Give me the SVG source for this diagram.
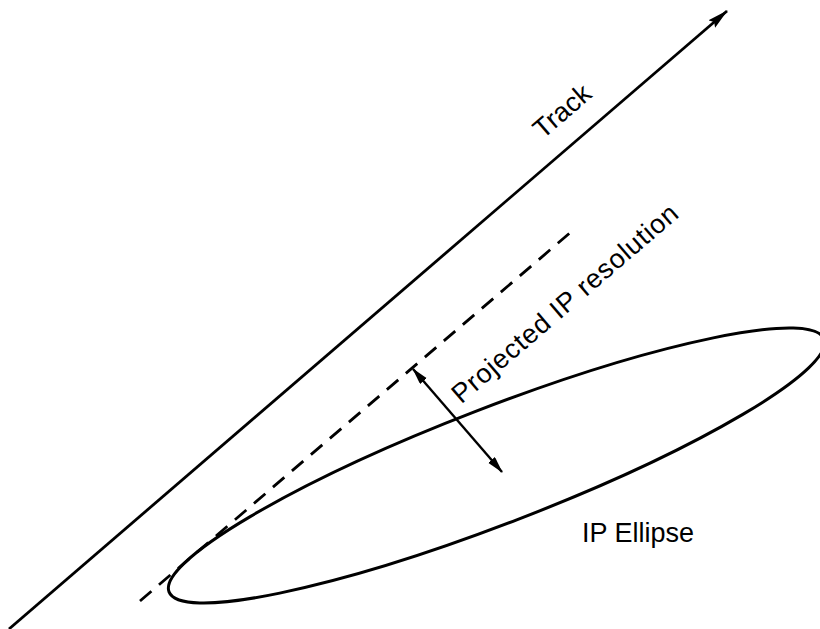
<svg xmlns="http://www.w3.org/2000/svg" width="820" height="629" viewBox="0 0 820 629">
  <style>
    .ln { fill: none; stroke: #000; stroke-linecap: butt; }
    .lbl { font-family: "Liberation Sans", Arial, Helvetica, sans-serif; font-size: 27px; fill: #000; }
  </style>
  <defs>
    <marker id="arrowBig" markerUnits="userSpaceOnUse" markerWidth="22" markerHeight="12" refX="20" refY="5.5" orient="auto">
      <path d="M0,0.5 L21,5.5 L0,10.5 L3,5.5 z" fill="#000"/>
    </marker>
    <marker id="arrowSmall" markerUnits="userSpaceOnUse" markerWidth="18" markerHeight="10" refX="16" refY="4.5" orient="auto-start-reverse">
      <path d="M0,0 L17,4.5 L0,9 z" fill="#000"/>
    </marker>
  </defs>
  <rect width="820" height="629" fill="#fff"/>

  <g id="ellipse">
    <ellipse class="ln" cx="496.5" cy="465.5" rx="351" ry="58" stroke-width="3" transform="rotate(-21.1 496.5 465.5)"/>
  </g>

  <g id="connectors">
    <line id="track" class="ln" x1="9" y1="629" x2="727" y2="11" stroke-width="2.8" marker-end="url(#arrowBig)"/>
    <line id="projection" class="ln" x1="140" y1="601" x2="571" y2="232" stroke-width="2.8" stroke-dasharray="15 10"/>
    <line id="resolution" class="ln" x1="413" y1="369" x2="502" y2="472" stroke-width="2.4" marker-start="url(#arrowSmall)" marker-end="url(#arrowSmall)"/>
  </g>

  <g id="labels">
    <text class="lbl" text-anchor="middle" font-size="28" transform="translate(568 118) rotate(-40.7)">Track</text>
    <text class="lbl" text-anchor="middle" font-size="28" letter-spacing="0.8" transform="translate(571 310) rotate(-40.7)">Projected IP resolution</text>
    <text class="lbl" x="582" y="542">IP Ellipse</text>
  </g>
</svg>
